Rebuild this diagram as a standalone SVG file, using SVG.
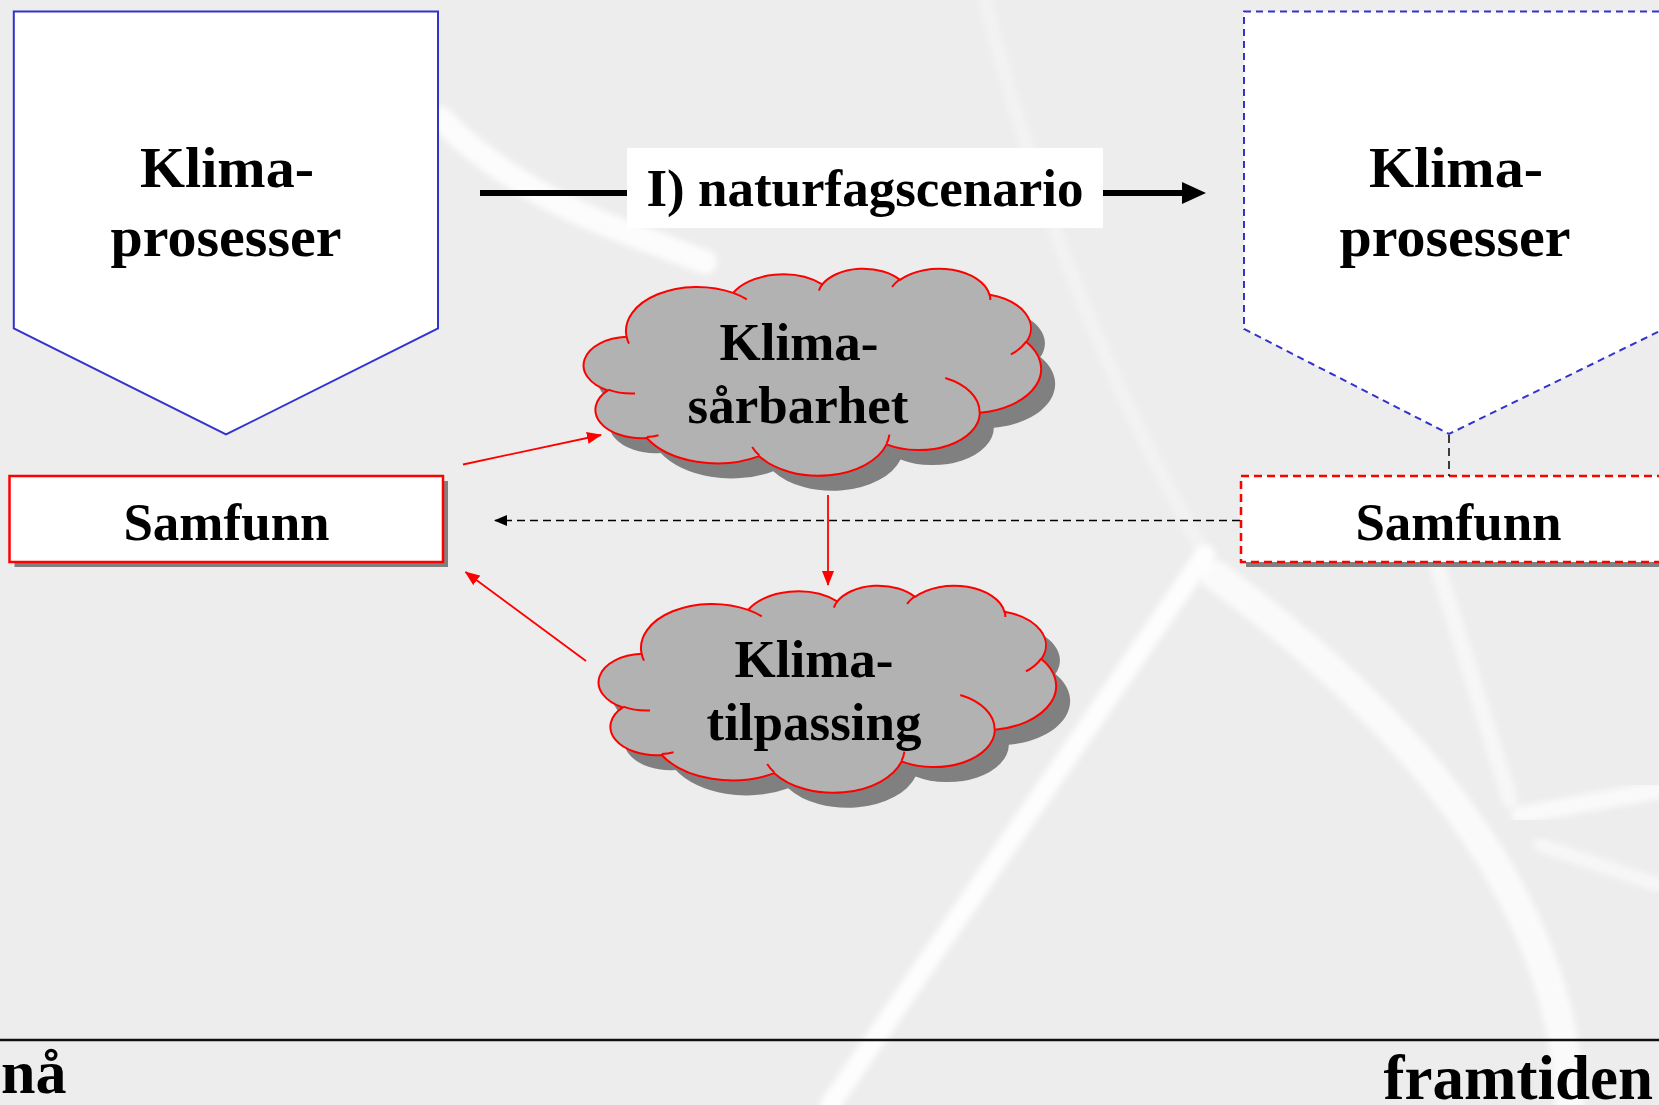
<svg xmlns="http://www.w3.org/2000/svg" xmlns:xlink="http://www.w3.org/1999/xlink" width="1659" height="1105" viewBox="0 0 1659 1105">
  <style>
    .t { font-family: "Liberation Serif", "Times New Roman", serif; font-weight: bold; fill: #000; }
    .t58 { font-size: 58px; text-anchor: middle; }
    .t53 { font-size: 53px; text-anchor: middle; }
    .streak { fill: none; stroke: #FFFFFF; stroke-linecap: round; filter: url(#soft); }
    .red { stroke: #FF0000; stroke-width: 1.8; fill: none; }
    .dash { stroke: #000; stroke-width: 1.5; stroke-dasharray: 8 5; fill: none; }
  </style>
  <defs>
    <filter id="soft" x="-20%" y="-20%" width="140%" height="140%">
      <feGaussianBlur stdDeviation="3"/>
    </filter>
    <path id="cloudOutline" vector-effect="non-scaling-stroke" d="M3900,14370 A6753,9190 0 0 1 14005,5202 A5333,7267 0 0 1 22457,3431 A4365,5945 0 0 1 29834,2480 A4857,6595 0 0 1 38320,5575 A5333,7273 0 0 1 41820,15459 A6775,9220 0 0 1 37406,30201 A5785,7867 0 0 1 28558,36812 A6752,9215 0 0 1 16483,39263 A7720,10543 0 0 1 5807,35468 A4360,5918 0 0 1 2114,25549 A4345,5945 0 0 1 3900,14370 Z"/>
    <path id="cloudInner" vector-effect="non-scaling-stroke" d="M4693,26177 A4345,5945 0 0 1 2160,25380 M6928,34899 A4360,5918 0 0 1 5820,35281 M16478,39090 A6752,9215 0 0 1 15810,37348 M28827,34751 A6752,9215 0 0 1 28560,36661 M34129,22954 A5785,7867 0 0 1 37381,30090 M41798,15354 A5333,7273 0 0 1 40351,18029 M38324,5426 A4857,6595 0 0 1 38400,6690 M29078,3952 A4857,6595 0 0 1 29820,2340 M22141,4720 A4365,5945 0 0 1 22500,3330 M14000,5192 A6753,9190 0 0 1 15300,6540 M4127,15789 A6753,9190 0 0 1 3900,14370"/>
    <marker id="redHead" markerUnits="userSpaceOnUse" markerWidth="15" markerHeight="12" refX="14" refY="6" orient="auto">
      <path d="M0,0 L15,6 L0,12 z" fill="#FF0000"/>
    </marker>
    <marker id="blackSmall" markerUnits="userSpaceOnUse" markerWidth="13" markerHeight="11" refX="12" refY="5.5" orient="auto">
      <path d="M0,0 L13,5.5 L0,11 z" fill="#000"/>
    </marker>
    <marker id="blackBig" markerUnits="userSpaceOnUse" markerWidth="24" markerHeight="22" refX="13" refY="11" orient="auto">
      <path d="M0,0 L24,11 L0,22 z" fill="#000"/>
    </marker>
  </defs>

  <!-- background -->
  <g id="background">
    <rect x="0" y="0" width="1659" height="1105" fill="#EDEDED"/>
    <path class="streak" d="M 440,118 Q 505,185 615,228 L 705,262" stroke-width="24" opacity="0.85"/>
    <path class="streak" d="M 1205,555 L 830,1105" stroke-width="20" opacity="0.9"/>
    <path class="streak" d="M 1205,555 Q 1060,300 985,0" stroke-width="14" opacity="0.3"/>
    <path class="streak" d="M 1215,575 Q 1560,830 1570,1105" stroke-width="30" opacity="0.75"/>
    <path class="streak" d="M 1437,565 L 1510,800" stroke-width="16" opacity="0.55"/>
    <path class="streak" d="M 1520,815 L 1659,790" stroke-width="18" opacity="0.7"/>
    <path class="streak" d="M 1540,845 L 1659,885" stroke-width="14" opacity="0.55"/>
    <line x1="0" y1="1040" x2="1659" y2="1040" stroke="#111" stroke-width="2.5"/>
  </g>

  <!-- nodes -->
  <g id="klima-prosesser-na">
    <polygon points="13.8,11.6 438,11.6 438,328.5 226,434.5 13.8,328.5" fill="#FFFFFF" stroke="#3333CC" stroke-width="2"/>
    <text class="t t58" x="227" y="187">Klima-</text>
    <text class="t t58" x="226" y="256">prosesser</text>
  </g>

  <g id="samfunn-na">
    <rect x="14.5" y="481" width="433.5" height="86" fill="#808080"/>
    <rect x="9.5" y="476" width="433.5" height="86" fill="#FFFFFF" stroke="#FF0000" stroke-width="2.5"/>
    <text class="t t53" x="226.5" y="540">Samfunn</text>
  </g>

  <g id="klima-prosesser-framtiden">
    <polygon points="1244,11.6 1664,11.6 1664,329 1449,434 1244,329" fill="#FFFFFF" stroke="#3333CC" stroke-width="2" stroke-dasharray="7 5"/>
    <text class="t t58" x="1456" y="187">Klima-</text>
    <text class="t t58" x="1455" y="256">prosesser</text>
  </g>

  <g id="samfunn-framtiden">
    <rect x="1246" y="481" width="434" height="86" fill="#808080"/>
    <rect x="1241" y="476" width="434" height="86" fill="#FFFFFF" stroke="#FF0000" stroke-width="2.5" stroke-dasharray="8 5"/>
    <text class="t t53" x="1458.5" y="540">Samfunn</text>
  </g>

  <g id="klima-sarbarhet">
    <use xlink:href="#cloudOutline" href="#cloudOutline" transform="translate(599.5,283) scale(0.010542,0.004792)" fill="#808080" stroke="none"/>
    <use xlink:href="#cloudOutline" href="#cloudOutline" transform="translate(585.5,268) scale(0.010542,0.004792)" fill="#B2B2B2" stroke="#FF0000" stroke-width="2"/>
    <use xlink:href="#cloudInner" href="#cloudInner" transform="translate(585.5,268) scale(0.010542,0.004792)" fill="none" stroke="#FF0000" stroke-width="2"/>
    <text class="t t53" x="799" y="360">Klima-</text>
    <text class="t t53" x="798" y="423">sårbarhet</text>
  </g>

  <g id="klima-tilpassing">
    <use xlink:href="#cloudOutline" href="#cloudOutline" transform="translate(614.5,600) scale(0.010542,0.004792)" fill="#808080" stroke="none"/>
    <use xlink:href="#cloudOutline" href="#cloudOutline" transform="translate(600.5,585) scale(0.010542,0.004792)" fill="#B2B2B2" stroke="#FF0000" stroke-width="2"/>
    <use xlink:href="#cloudInner" href="#cloudInner" transform="translate(600.5,585) scale(0.010542,0.004792)" fill="none" stroke="#FF0000" stroke-width="2"/>
    <text class="t t53" x="814" y="677">Klima-</text>
    <text class="t t53" x="814" y="740">tilpassing</text>
  </g>

  <g id="label-na">
    <text class="t" x="1" y="1093" font-size="62">nå</text>
  </g>
  <g id="label-framtiden">
    <text class="t" x="1653" y="1099" font-size="63" text-anchor="end">framtiden</text>
  </g>

  <!-- connectors -->
  <g id="connectors">
    <line class="red" x1="463" y1="464.5" x2="601" y2="435" marker-end="url(#redHead)"/>
    <line class="red" x1="586" y1="661" x2="465.5" y2="572" marker-end="url(#redHead)"/>
    <line class="red" x1="828" y1="495" x2="828" y2="585" marker-end="url(#redHead)"/>
    <line class="dash" x1="1240" y1="520.5" x2="495" y2="520.5" marker-end="url(#blackSmall)"/>
    <line class="dash" x1="1449" y1="435" x2="1449" y2="476"/>
    <line x1="480" y1="193" x2="1195" y2="193" stroke="#000" stroke-width="6" marker-end="url(#blackBig)"/>
    <rect x="627" y="148" width="476" height="80" fill="#FFFFFF"/>
    <text class="t t53" x="865" y="206">I) naturfagscenario</text>
  </g>
</svg>
